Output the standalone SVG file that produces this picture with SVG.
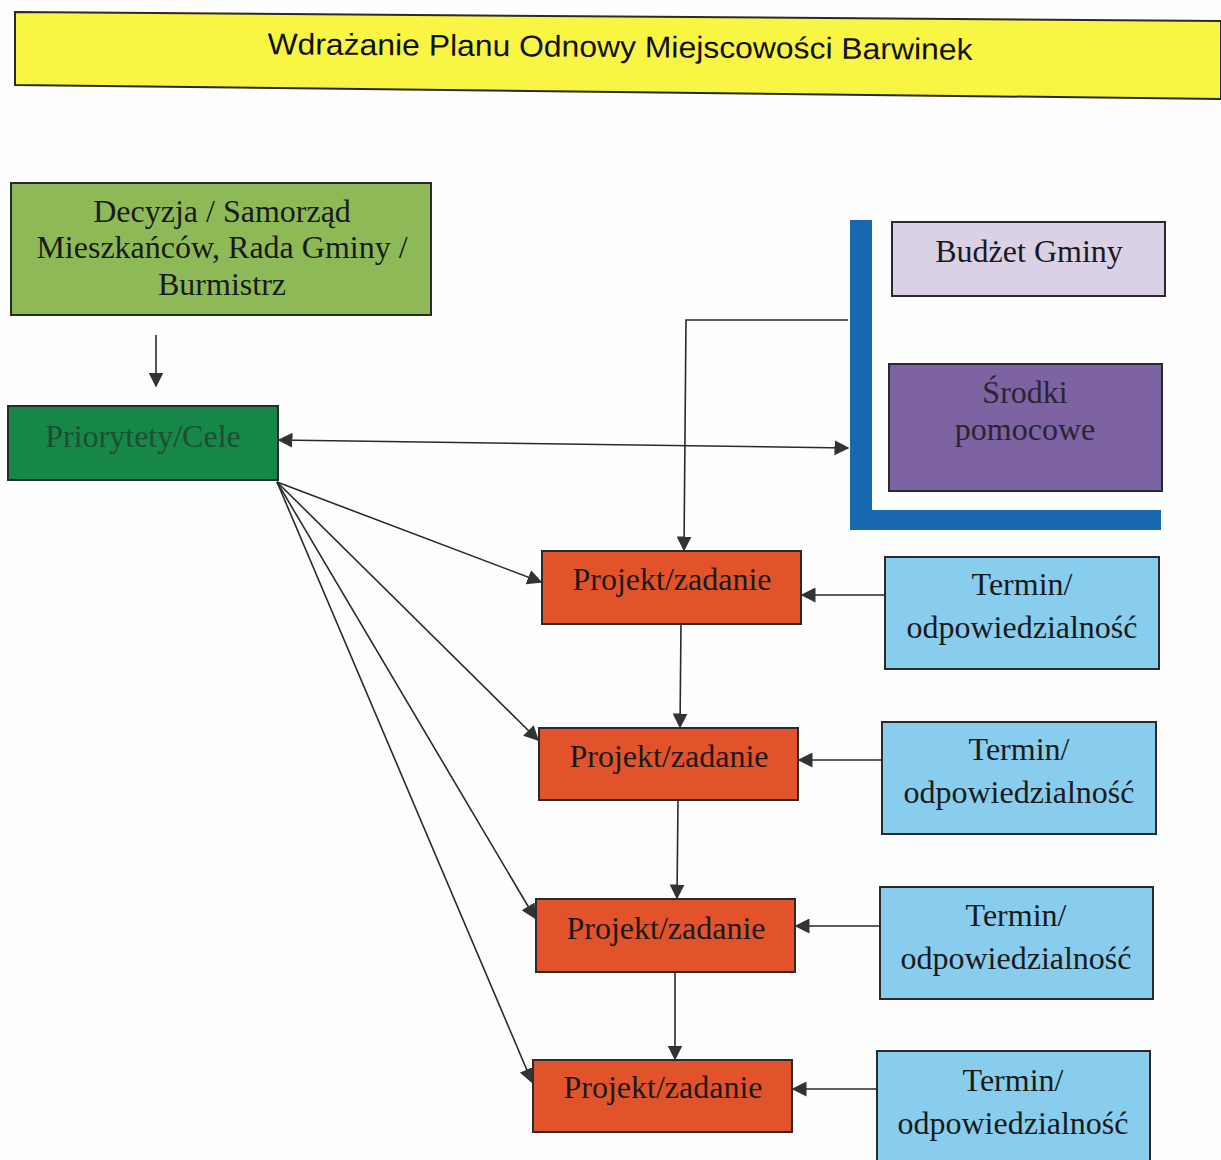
<svg xmlns="http://www.w3.org/2000/svg" width="1221" height="1160" viewBox="0 0 1221 1160">
<defs>
<marker id="ah" viewBox="0 0 10 10" refX="9" refY="5" markerWidth="15" markerHeight="15" markerUnits="userSpaceOnUse" orient="auto-start-reverse">
<path d="M0,0 L10,5 L0,10 z" fill="#333"/>
</marker>
<style>
.box{stroke:#2a2a2a;stroke-width:2}
.t{font-family:"Liberation Serif",serif;font-size:32px;fill:#1a1a1a;text-anchor:middle}
.c{stroke:#2a2a2a;stroke-width:1.6;fill:none}
</style>
</defs>
<rect width="1221" height="1160" fill="#fefefe"/>
<g id="title">
<polygon points="15,12 1221,21 1221,99 15,85" fill="#f8f544" stroke="#2a2a2a" stroke-width="2"/>
<text x="620" y="57" font-family="Liberation Sans, Arial, sans-serif" font-size="30" fill="#111" text-anchor="middle" textLength="705" lengthAdjust="spacingAndGlyphs" transform="rotate(0.45 620 50)">Wdrażanie Planu Odnowy Miejscowości Barwinek</text>
</g>
<g id="decyzja">
<rect class="box" x="11" y="183" width="420" height="132" fill="#8dba57"/>
<text class="t" x="222" y="222">Decyzja / Samorząd</text>
<text class="t" x="222" y="258">Mieszkańców, Rada Gminy /</text>
<text class="t" x="222" y="295">Burmistrz</text>
</g>
<g id="priorytety">
<rect class="box" x="8" y="406" width="270" height="74" fill="#178748"/>
<text class="t" x="143" y="447" style="fill:#1d4d33">Priorytety/Cele</text>
</g>
<g id="frame">
<rect x="850" y="220" width="22" height="310" fill="#1768b0"/>
<rect x="850" y="510" width="311" height="20" fill="#1768b0"/>
</g>
<g id="budzet">
<rect class="box" x="892" y="222" width="273" height="74" fill="#dad1e7"/>
<text class="t" x="1029" y="262">Budżet Gminy</text>
</g>
<g id="srodki">
<rect class="box" x="889" y="364" width="273" height="127" fill="#7d63a1"/>
<text class="t" x="1025" y="403" style="fill:#2a2433">Środki</text>
<text class="t" x="1025" y="440" style="fill:#2a2433">pomocowe</text>
</g>
<g id="p1">
<rect class="box" x="542" y="551" width="259" height="73" fill="#e2532c"/>
<text class="t" x="672" y="590">Projekt/zadanie</text>
</g>
<g id="p2">
<rect class="box" x="539" y="728" width="259" height="72" fill="#e2532c"/>
<text class="t" x="669" y="767">Projekt/zadanie</text>
</g>
<g id="p3">
<rect class="box" x="536" y="899" width="259" height="73" fill="#e2532c"/>
<text class="t" x="666" y="939">Projekt/zadanie</text>
</g>
<g id="p4">
<rect class="box" x="533" y="1060" width="259" height="72" fill="#e2532c"/>
<text class="t" x="663" y="1098">Projekt/zadanie</text>
</g>
<g id="t1">
<rect class="box" x="885" y="557" width="274" height="112" fill="#88cdee"/>
<text class="t" x="1022" y="595">Termin/</text>
<text class="t" x="1022" y="638">odpowiedzialność</text>
</g>
<g id="t2">
<rect class="box" x="882" y="722" width="274" height="112" fill="#88cdee"/>
<text class="t" x="1019" y="760">Termin/</text>
<text class="t" x="1019" y="803">odpowiedzialność</text>
</g>
<g id="t3">
<rect class="box" x="880" y="887" width="273" height="112" fill="#88cdee"/>
<text class="t" x="1016" y="926">Termin/</text>
<text class="t" x="1016" y="969">odpowiedzialność</text>
</g>
<g id="t4">
<rect class="box" x="877" y="1051" width="273" height="115" fill="#88cdee"/>
<text class="t" x="1013" y="1091">Termin/</text>
<text class="t" x="1013" y="1134">odpowiedzialność</text>
</g>
<g id="connectors">
<line class="c" x1="156" y1="335" x2="156" y2="386" marker-end="url(#ah)"/>
<line class="c" x1="279" y1="440" x2="848" y2="448" marker-start="url(#ah)" marker-end="url(#ah)"/>
<polyline class="c" points="848,320 686,320 684,550" marker-end="url(#ah)"/>
<line class="c" x1="277" y1="482" x2="541" y2="582" marker-end="url(#ah)"/>
<line class="c" x1="277" y1="482" x2="538" y2="740" marker-end="url(#ah)"/>
<line class="c" x1="277" y1="482" x2="535" y2="918" marker-end="url(#ah)"/>
<line class="c" x1="277" y1="482" x2="532" y2="1082" marker-end="url(#ah)"/>
<line class="c" x1="885" y1="595" x2="802" y2="595" marker-end="url(#ah)"/>
<line class="c" x1="882" y1="760" x2="799" y2="760" marker-end="url(#ah)"/>
<line class="c" x1="880" y1="926" x2="796" y2="926" marker-end="url(#ah)"/>
<line class="c" x1="877" y1="1089" x2="793" y2="1089" marker-end="url(#ah)"/>
<line class="c" x1="681" y1="624" x2="680" y2="727" marker-end="url(#ah)"/>
<line class="c" x1="678" y1="800" x2="677" y2="898" marker-end="url(#ah)"/>
<line class="c" x1="675" y1="972" x2="675" y2="1059" marker-end="url(#ah)"/>
</g>
</svg>
